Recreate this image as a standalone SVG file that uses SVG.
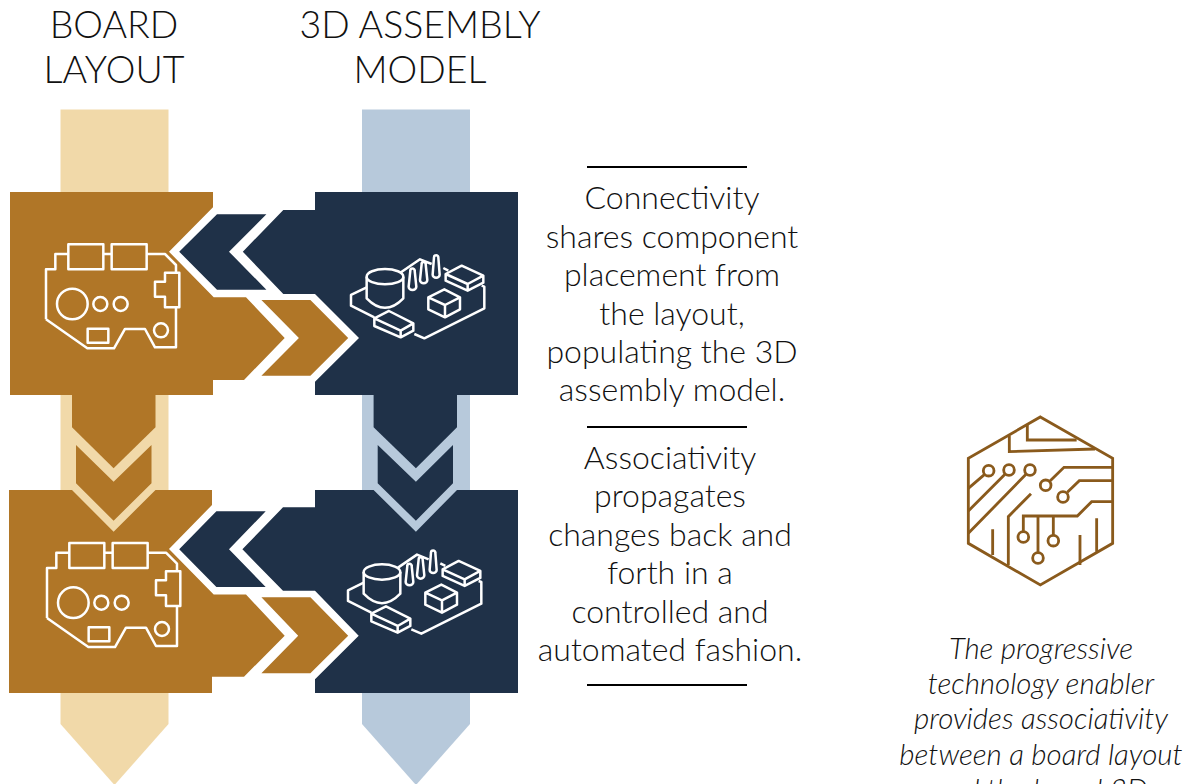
<svg xmlns="http://www.w3.org/2000/svg" width="1190" height="784" viewBox="0 0 1190 784">
<style>
.brown{fill:#b07627}.navy{fill:#1f3148}.pale{fill:#f1d9a9}.blue{fill:#b7c9db}
.ic{fill:none;stroke:#fff;stroke-width:7.500;stroke-linejoin:round}
.hx{fill:none;stroke:#8a5a1c;stroke-width:8.500}
text{font-family:Lato,"Liberation Sans",sans-serif;font-weight:300;fill:#111;text-anchor:middle}
.h{font-size:37.500px}.b{font-size:32px}.i{font-size:29.500px;font-style:italic}
.rule{stroke:#000;stroke-width:2}
</style>
<defs>
<g id="pcb" class="ic">
<path d="M48 268V118H76V72H115M220 72H245M350 72H405L438 105V128M438 232V352H375L345 297H285L252 355H172L48 268"/>
<rect x="115" y="43" width="105" height="75"/><rect x="245" y="43" width="105" height="75"/>
<path d="M405 128H448V232H405V200H375V155H405Z"/>
<circle cx="127" cy="222" r="46"/><circle cx="211" cy="222" r="21"/><circle cx="272" cy="222" r="21"/><circle cx="393" cy="301" r="21"/>
<rect x="173" y="296" width="62" height="42"/>
</g>
<g id="asm" class="ic">
<path d="M95 142L48 165V197L118 232M198 97L255 58L290 72M340 92L325 84M440 137L448 140V205L268 295L238 282"/>
<ellipse cx="150" cy="110" rx="55" ry="23"/>
<path d="M95 110V175Q150 232 205 175V110"/>
<path d="M221 140L226 92A6.500 6.500 0 0 1 239 92L244 140A11.500 10 0 0 1 221 140Z"/>
<path d="M255 120L260 72A6 6 0 0 1 272 72L277 120A11 10 0 0 1 255 120Z"/>
<path d="M293 104L297 52A6.500 6.500 0 0 1 310 52L314 104A10.500 9 0 0 1 293 104Z"/>
<path d="M380 77L445 107L398 132L332 102ZM332 102V122L398 152L445 128V107M398 132V152"/>
<path d="M328 148L375 172L330 195L280 172ZM280 172V208L330 232L375 208V172M330 195V232"/>
<path d="M162 213L235 250L197 272L118 235ZM118 235V258L197 292L235 272V250M197 272V292"/>
</g>
</defs>
<g id="connectors">
<path class="pale" d="M60.500 109.500H168.500V724L114.500 785L60.500 724Z"/>
<path class="blue" d="M362 109.500H470V724L416 785L362 724Z"/>
<path class="brown" d="M72 395H155.500V427.300L113.600 468.300L72 427.300Z"/>
<path class="brown" d="M76 445L113.600 481.700L151.500 445V483.300L113.600 520.700L76 483.300Z"/>
<path class="navy" d="M373.600 395H457V427.300L415.900 468.300L373.600 427.300Z"/>
<path class="navy" d="M377.700 445L415.900 481.700L453 445V483.300L415.900 520.700L377.700 483.300Z"/>
</g>
<g id="board-1">
<path class="brown" d="M10 192H213V207.300L169 251.700L213.700 297.300H246L284.700 338L244 380H213V395H10Z"/>
<use href="#pcb" transform="translate(30 230) scale(.3333)"/>
</g>
<g id="assembly-1">
<path class="navy" d="M315 192H518V395H315V381.700L359 338L315 294H283.300L242.800 251.700L283.300 210H315Z"/>
<use href="#asm" transform="translate(335 240) scale(.3333)"/>
</g>
<path id="chevron-left-1" class="navy" d="M217 214.300H266.400L229 251.700L266.400 289.700H217L179.200 251.700Z"/>
<path id="chevron-right-1" class="brown" d="M261.400 300H310.400L348.200 338L310.400 375.700H261.400L298.900 338Z"/>
<g id="board-2">
<path class="brown" d="M9 490H72L113.600 531.700L155.500 490H212V505L169 549L213.700 594.500H246L284.700 635.700L244 676.700H212V693H9Z"/>
<use href="#pcb" transform="translate(31 528.700) scale(.3333)"/>
</g>
<g id="assembly-2">
<path class="navy" d="M315 490H373.600L415.900 531.700L457 490H518V693H315V679.300L358.700 635.700L315 590.700H283L242.400 549.300L283 507.300H315Z"/>
<use href="#asm" transform="translate(332 535.300) scale(.3333)"/>
</g>
<path id="chevron-left-2" class="navy" d="M216.400 511.300H265.700L229 549.300L265.700 587H216.400L179.200 549.300Z"/>
<path id="chevron-right-2" class="brown" d="M261.400 597.300H310.400L348.200 635.700L310.400 673.300H261.400L298.200 635.700Z"/>
<g id="headers">
<text class="h" x="114" y="38">BOARD</text><text class="h" x="114" y="83">LAYOUT</text>
<text class="h" x="420" y="38">3D ASSEMBLY</text><text class="h" x="420" y="83">MODEL</text>
</g>
<g id="desc-1">
<path class="rule" d="M587 167H747M587 427H747"/>
<text class="b" x="672" y="209">Connectivity</text>
<text class="b" x="672" y="248">shares component</text>
<text class="b" x="672" y="286">placement from</text>
<text class="b" x="672" y="325">the layout,</text>
<text class="b" x="672" y="363">populating the 3D</text>
<text class="b" x="672" y="401">assembly model.</text>
</g>
<g id="desc-2">
<path class="rule" d="M587 685H747"/>
<text class="b" x="670" y="469">Associativity</text>
<text class="b" x="670" y="507">propagates</text>
<text class="b" x="670" y="546">changes back and</text>
<text class="b" x="670" y="584">forth in a</text>
<text class="b" x="670" y="623">controlled and</text>
<text class="b" x="670" y="661">automated fashion.</text>
</g>
<g id="chip" transform="translate(950 405) scale(.3333)" class="hx">
<path d="M271 36L488 160V415L271 540L55 415V160Z"/>
<path d="M232 60V105H380M178 92V140L435 132"/>
<circle cx="116" cy="197" r="16"/><circle cx="177" cy="195" r="16"/><circle cx="240" cy="195" r="16"/><circle cx="287" cy="241" r="16"/><circle cx="339" cy="276" r="16"/><circle cx="220" cy="396" r="16"/><circle cx="264" cy="459" r="16"/><circle cx="310" cy="407" r="16"/>
<path d="M55 250L104 208M55 318L165 208M55 385L228 208M300 228L342 187H488M352 262L388 227H488M175 480V335L243 266M220 380V333H382L425 290H488M264 443V333M310 390V333M128 373V450M390 390V480M440 340V440"/>
</g>
<g id="caption">
<text class="i" x="1041" y="659">The progressive</text>
<text class="i" x="1041" y="694">technology enabler</text>
<text class="i" x="1041" y="729">provides associativity</text>
<text class="i" x="1041" y="765">between a board layout</text>
<text class="i" x="1041" y="800">and the board 3D</text>
</g>
</svg>
